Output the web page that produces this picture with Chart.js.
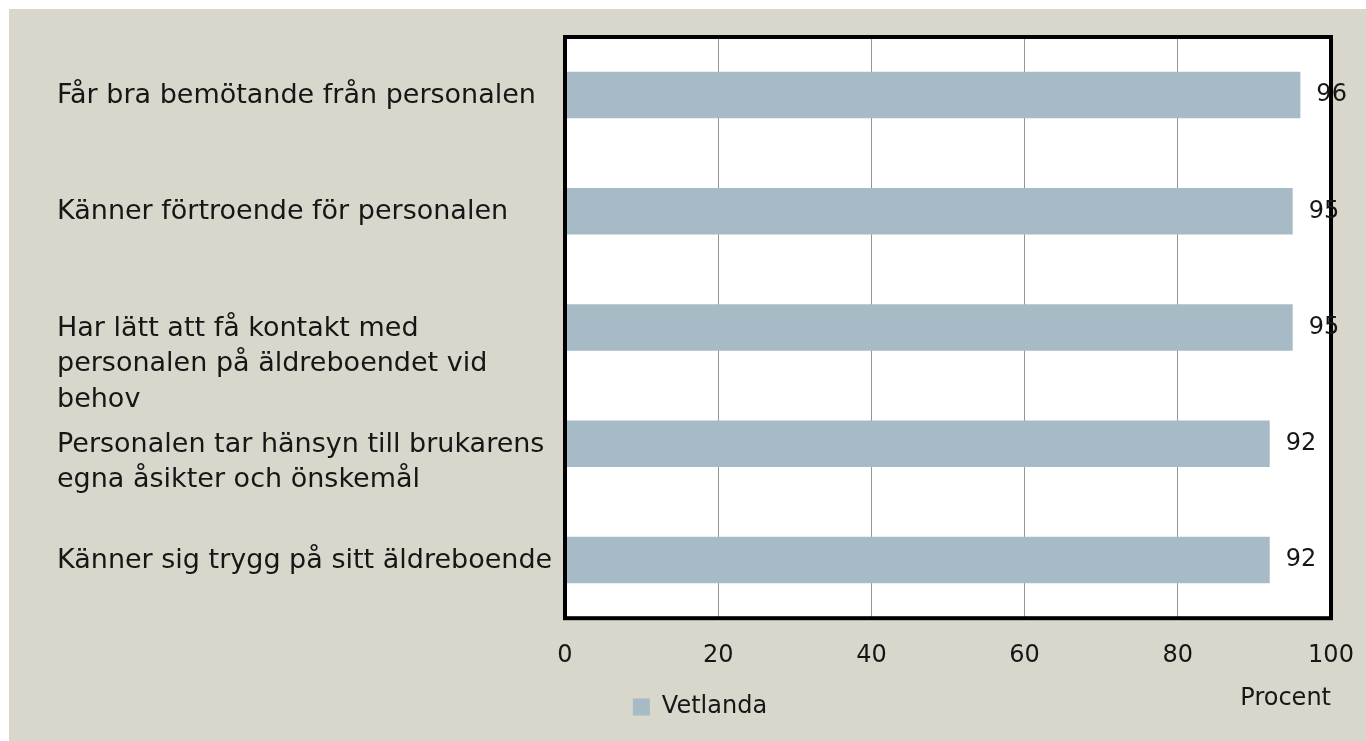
<!DOCTYPE html>
<html>
<head>
<meta charset="utf-8">
<script src="https://cdn.jsdelivr.net/npm/chart.js@4.4.0/dist/chart.umd.min.js"></script>
<style>
    html, body { margin: 0; padding: 0; background: #ffffff; }
    #wrap {
        position: absolute; left: 9px; top: 9px;
        width: 1357px; height: 732px;
        background: #d9d7cb;
    }
</style>
</head>
<body>
<div id="wrap"><canvas id="chart"></canvas></div>
<script>
// chart data
const categories = [
    ['Får bra bemötande från personalen'],
    ['Känner förtroende för personalen'],
    ['Har lätt att få kontakt med', 'personalen på äldreboendet vid', 'behov'],
    ['Personalen tar hänsyn till brukarens', 'egna åsikter och önskemål'],
    ['Känner sig trygg på sitt äldreboende']
];
const values = [96, 95, 95, 92, 92];
const xTicks = [0, 20, 40, 60, 80, 100];
const seriesName = 'Vetlanda';
const axisTitle = 'Procent';

const FONT = '"DejaVu Sans", sans-serif';
const TEXT = '#161616';

// white plot area, black frame, value labels, wrapped category labels
const framePlugin = {
    id: 'frame',
    beforeDraw: (chart) => {
        const { ctx, chartArea: a } = chart;
        ctx.save();
        ctx.fillStyle = '#ffffff';
        ctx.fillRect(a.left, a.top, a.right - a.left, a.bottom - a.top);
        ctx.restore();
    },
    afterDatasetsDraw: (chart) => {
        const { ctx, chartArea: a } = chart;
        ctx.save();
        ctx.strokeStyle = '#000000';
        ctx.lineWidth = 4;
        ctx.strokeRect(a.left, a.top, a.right - a.left, a.bottom - a.top);

        // value labels
        ctx.fillStyle = TEXT;
        ctx.font = '24px ' + FONT;
        ctx.textAlign = 'left';
        ctx.textBaseline = 'middle';
        chart.getDatasetMeta(0).data.forEach((bar, i) => {
            ctx.fillText(String(values[i]), bar.x + 16, bar.y);
        });

        // category labels, first line on the bar
        const yScale = chart.scales.y;
        ctx.font = '27px ' + FONT;
        categories.forEach((lines, i) => {
            const y = yScale.getPixelForValue(i);
            lines.forEach((line, j) => {
                ctx.fillText(line, 48, y + 1 + j * 35.5);
            });
        });

        // axis title, just above the legend row
        const lg = chart.legend;
        ctx.font = '24px ' + FONT;
        ctx.textAlign = 'right';
        ctx.fillText(axisTitle, a.right, lg.top + lg.height / 2 - 12);
        ctx.restore();
    }
};

const ctx = document.getElementById('chart').getContext('2d');
new Chart(ctx, {
    type: 'bar',
    data: {
        labels: categories.map(c => c.join(' ')),
        datasets: [{
            label: seriesName,
            data: values,
            backgroundColor: '#a7bbc6',
            borderWidth: 0,
            barPercentage: 0.4,
            categoryPercentage: 1.0
        }]
    },
    options: {
        indexAxis: 'y',
        responsive: true,
        maintainAspectRatio: false,
        animation: false,
        layout: { padding: { left: 60, right: 35, top: 28, bottom: 12 } },
        scales: {
            x: {
                min: xTicks[0],
                max: xTicks[xTicks.length - 1],
                afterBuildTicks: (scale) => { scale.ticks = xTicks.map(v => ({ value: v })); },
                afterFit: (scale) => { scale.paddingRight = 0; scale.paddingLeft = 0; },
                ticks: { color: TEXT, font: { family: FONT, size: 24 }, padding: 23 },
                grid: { color: '#959595', lineWidth: 1, drawTicks: false },
                border: { display: false }
            },
            y: {
                ticks: { display: false },
                grid: { display: false },
                border: { display: false },
                afterFit: (scale) => { scale.width = 496; }
            }
        },
        plugins: {
            legend: {
                position: 'bottom',
                labels: {
                    color: TEXT,
                    font: { family: FONT, size: 24 },
                    boxWidth: 17,
                    boxHeight: 17,
                    padding: 2
                }
            },
            tooltip: { enabled: false }
        }
    },
    plugins: [framePlugin]
});
</script>
</body>
</html>
